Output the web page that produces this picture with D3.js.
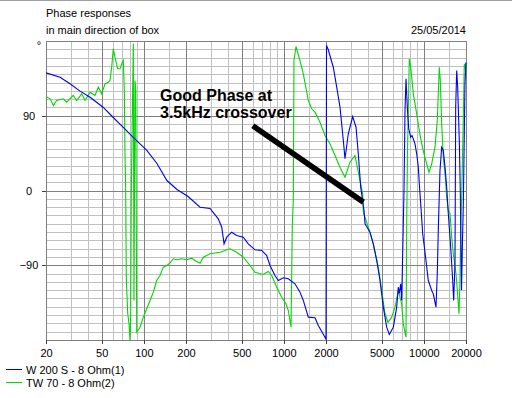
<!DOCTYPE html>
<html lang="en">

<head>
    <meta charset="UTF-8">
    <title>Phase responses</title>
    <script src="https://d3js.org/d3.v7.min.js"></script>
    <style>
        body {
            margin: 0;
            background: #fff;
        }

        svg {
            display: block;
        }

        text {
            font-family: "Liberation Sans", Arial, sans-serif;
            font-size: 11px;
            fill: #000;
        }

        .note {
            font-size: 16px;
            font-weight: bold;
        }
    </style>
</head>

<body>
    <div id="chart"></div>
    <script>
        // W 200 S - 8 Ohm(1)
        var freqW = [20, 25.2, 29.7, 35.0, 41.3, 51.1, 60.2, 71.0, 83.6, 105,
            124, 146, 172.5, 207, 252, 297, 340, 360, 374, 391,
            424, 460, 513, 557, 622, 695, 754, 796, 864, 913,
            991, 1076, 1201, 1304, 1377, 1495, 1669, 1762, 1967, 2000,
            2017, 2077, 2255, 2385, 2518, 2659, 2734, 2886, 3102, 3277,
            3402, 3540, 3737, 3800, 4124, 4354, 4604, 4862, 5134, 5428,
            5664, 6050, 6398, 6568, 6678, 6834, 6946, 7131, 7214, 7334,
            7456, 7617, 7794, 8054, 8229, 8407, 8644, 8890, 9127, 9278,
            9494, 9812, 10191, 10758, 11376, 11678, 12207, 12471, 12677, 13039,
            13408, 13767, 14159, 14559, 14949, 15549, 16069, 16334, 16688, 16881,
            17163, 17446, 17620, 17911, 18210, 18574, 18877, 19130, 19673, 20000];
        var phaseW = [141.7, 136.4, 128.5, 119.6, 112.3, 100.3, 88.2, 76.2, 64.2, 48.2,
            32.5, 12.0, 1.2, -7.2, -20.1, -21.7, -34.1, -44.2, -64.2, -56.2,
            -50.2, -54.2, -56.2, -64.2, -71.4, -72.2, -78.3, -90.3, -102.3, -108.4,
            -105.1, -106.3, -112.3, -122.4, -132.4, -152.5, -153.3, -162.5, -176.6, -179.4,
            174.6, 169.4, 148.4, 124.4, 100.3, 60.2, 38.2, 68.3, 89.1, 76.2,
            44.2, 4.0, -24.1, -40.1, -50.2, -64.2, -84.3, -108.4, -140.5, -164.6,
            -173.4, -164.6, -140.5, -116.4, -124, -112.3, -132.4, -40.1, 0, 96.3,
            134.5, 100.3, 74.6, 64.2, 66.2, 62.2, 56.2, 44.2, 28.1, 8.1,
            -16.0, -52.1, -74.3, -108.4, -120.4, -124.4, -140.5, -100.3, -48.2, 24.1,
            52.1, 48.2, 28.1, 4.0, -27.7, -68.3, -108.4, -132.4, -87.9, 100.3,
            144.5, 124.4, 100.3, 60.2, 0, -120, -60, -18, 128.5, 154.1];

        // TW 70 - 8 Ohm(2)
        var freqTW = [20, 21.4, 22.6, 23.8, 26.6, 28.1, 31.3, 33.1, 36.0, 38.0,
            41.3, 44.8, 47.3, 50.0, 52.8, 55.7, 57.3, 58.9, 60.5, 62.2,
            65.0, 67.6, 70.2, 71.3, 72.5, 73.3, 74.2, 74.9, 76.7, 78.3,
            79.6, 80.5, 81.3, 84.1, 85.0, 86.4, 87.6, 88.9, 93.9, 99.1,
            104.8, 110.7, 116.8, 123.5, 130.4, 137.7, 145.6, 153.7, 162.3, 171.7,
            186.4, 202, 220, 238, 252, 266, 297, 350, 413, 460,
            513, 573, 622, 713, 774, 819, 889, 965, 1036, 1076,
            1125, 1149, 1168, 1181, 1221, 1304, 1377, 1495, 1581, 1669,
            1812, 1967, 2136, 2319, 2518, 2734, 2968, 3222, 3346, 3499,
            3657, 3694, 4010, 4354, 4728, 5000, 5279, 5546, 5892, 6222,
            6568, 6946, 7131, 7456, 7541, 7642, 7871, 8054, 8229, 8407,
            8890, 9278, 9655, 10024, 10481, 10883, 11376, 12011, 12471, 12892,
            13106, 13408, 13767, 14159, 14559, 14949, 15372, 15810, 16232, 16969,
            17335, 17825, 18120, 18330, 18636, 19130, 19448, 19904, 20000];
        var phaseTW = [113.2, 110.4, 102.3, 108.4, 110.4, 106.3, 114.4, 108.4, 116.4, 108.4,
            118.3, 114.4, 124.4, 116.4, 128.5, 130.4, 132.4, 148.4, 170.6, 160.5,
            146.5, 146.5, 154.5, 156.5, 120.4, 44.5, -3.6, -104.7, -148.1, -160.1,
            -180, -152.9, -3.6, 177, -132.4, 132.4, 120.4, -170.6, -164.6, -152.5,
            -142.4, -132.4, -122.4, -108.4, -102.3, -92.3, -90.3, -87.5, -82.2, -83.4,
            -82.2, -83.4, -81.5, -85.5, -87.5, -80.3, -76.2, -74.3, -70.2, -74.3,
            -80.3, -90.3, -98.4, -101.1, -97.5, -102.3, -116.4, -128.5, -136.4, -144.5,
            -164.6, -42.1, -12.0, 156.5, 173.4, 156.5, 140.5, 108.4, 98.4, 94.3,
            82.2, 66.2, 56.2, 42.1, 28.1, 16.0, 34.1, 42.1, 28.1, 12.0,
            -4.0, -26.1, -44.2, -64.2, -92.3, -120.4, -148.4, -158.6, -152.5, -140.5,
            -120.4, -136.4, -160.5, -176.6, -40.1, 48.2, 158.6, 148.4, 132.4, 116.4,
            92.3, 72.2, 56.2, 44.2, 32.1, 22.0, 32.1, 52.1, 84.3, 148.4,
            132.4, 80.3, 40.1, 20.1, -8.1, -24.1, -27.7, -56.2, -76.2, -100.3,
            -120.4, -148.4, -108.4, -48.2, -8.1, 88.2, 152.5, 144.5, 154.1];

        // ticks and grid
        var xTickValues = [20, 50, 100, 200, 500, 1000, 2000, 5000, 10000, 20000];
        var xMinorValues = [30, 40, 60, 70, 80, 90, 150, 300, 400, 600, 700, 800, 900,
            1500, 3000, 4000, 6000, 7000, 8000, 9000, 15000];
        var yTickValues = [-90, 0, 90];
        var seriesNames = ["W 200 S - 8 Ohm(1)", "TW 70 - 8 Ohm(2)"];
        var seriesColors = ["#0000f0", "#00d800"];

        var width = 512, height = 398;
        var margin = { top: 41, right: 46, bottom: 58, left: 46 };
        var plotW = width - margin.left - margin.right,
            plotH = height - margin.top - margin.bottom;

        var svg = d3.select("#chart")
            .append("svg")
            .attr("width", width)
            .attr("height", height);

        // thin grey line along the top of the window
        svg.append("line")
            .attr("x1", 0).attr("x2", width)
            .attr("y1", 0.5).attr("y2", 0.5)
            .attr("stroke", "#a0a0a0");

        var g = svg.append("g")
            .attr("transform", "translate(" + margin.left + "," + margin.top + ")");

        var x = d3.scaleLog().domain([20, 20000]).range([0, plotW]);
        var y = d3.scaleLinear().domain([-180, 180]).range([plotH, 0]);

        function px(v) { return Math.round(v) + 0.5; }

        // minor grid
        var minorY = d3.range(-170, 180, 10).filter(function (d) { return yTickValues.indexOf(d) < 0; });
        g.selectAll(".hminor").data(minorY).enter().append("line")
            .attr("x1", 0).attr("x2", plotW)
            .attr("y1", function (d) { return px(y(d)); })
            .attr("y2", function (d) { return px(y(d)); })
            .attr("stroke", "#c0c0c0")
            .attr("shape-rendering", "crispEdges");
        g.selectAll(".vminor").data(xMinorValues).enter().append("line")
            .attr("y1", 0).attr("y2", plotH)
            .attr("x1", function (d) { return px(x(d)); })
            .attr("x2", function (d) { return px(x(d)); })
            .attr("stroke", "#c0c0c0")
            .attr("shape-rendering", "crispEdges");

        // major grid
        g.selectAll(".hmajor").data(yTickValues).enter().append("line")
            .attr("x1", 0).attr("x2", plotW)
            .attr("y1", function (d) { return px(y(d)); })
            .attr("y2", function (d) { return px(y(d)); })
            .attr("stroke", "#808080")
            .attr("shape-rendering", "crispEdges");
        g.selectAll(".vmajor").data(xTickValues.slice(1, -1)).enter().append("line")
            .attr("y1", 0).attr("y2", plotH)
            .attr("x1", function (d) { return px(x(d)); })
            .attr("x2", function (d) { return px(x(d)); })
            .attr("stroke", "#808080")
            .attr("shape-rendering", "crispEdges");

        // frame
        g.append("rect")
            .attr("x", 0.5).attr("y", 0.5)
            .attr("width", plotW).attr("height", plotH)
            .attr("fill", "none")
            .attr("stroke", "#808080")
            .attr("shape-rendering", "crispEdges");

        // axes
        var xAxis = g.append("g")
            .attr("transform", "translate(0," + plotH + ")")
            .call(d3.axisBottom(x).tickValues(xTickValues).tickFormat(d3.format("d")).tickSize(4).tickPadding(5));
        xAxis.select(".domain").remove();
        xAxis.selectAll("line").attr("stroke", "#404040").attr("shape-rendering", "crispEdges");
        xAxis.selectAll("text").style("font-size", "11px").style("font-family", "'Liberation Sans', Arial, sans-serif");

        var yAxis = g.append("g")
            .call(d3.axisLeft(y).tickValues(yTickValues).tickSize(4));
        yAxis.select(".domain").remove();
        yAxis.selectAll("line").attr("stroke", "#404040").attr("shape-rendering", "crispEdges");
        yAxis.selectAll("text")
            .attr("x", -17)
            .attr("text-anchor", "middle")
            .style("font-size", "11px").style("font-family", "'Liberation Sans', Arial, sans-serif");

        g.append("text")
            .attr("x", -7).attr("y", 8)
            .attr("text-anchor", "middle")
            .text("°");

        // curves
        g.append("clipPath").attr("id", "plotclip")
            .append("rect").attr("width", plotW + 1).attr("height", plotH + 1);

        var line = d3.line()
            .x(function (d) { return x(d[0]); })
            .y(function (d) { return y(d[1]); });

        var series = [d3.zip(freqW, phaseW), d3.zip(freqTW, phaseTW)];
        [1, 0].forEach(function (i) {
            g.append("path")
                .datum(series[i])
                .attr("clip-path", "url(#plotclip)")
                .attr("fill", "none")
                .attr("stroke", seriesColors[i])
                .attr("stroke-width", 1.1)
                .attr("d", line);
        });

        // annotation
        g.append("line")
            .attr("x1", x(600)).attr("y1", y(78))
            .attr("x2", x(3700)).attr("y2", y(-14))
            .attr("stroke", "#000")
            .attr("stroke-width", 5.5);
        svg.append("text").attr("class", "note").attr("x", 160).attr("y", 101).text("Good Phase at");
        svg.append("text").attr("class", "note").attr("x", 160).attr("y", 118).text("3.5kHz crossover");

        // titles
        svg.append("text").attr("x", 46).attr("y", 17).text("Phase responses");
        svg.append("text").attr("x", 46).attr("y", 34).text("in main direction of box");
        svg.append("text").attr("x", 466).attr("y", 34).attr("text-anchor", "end").text("25/05/2014");

        // legend
        var legend = svg.selectAll(".legend").data(seriesNames).enter().append("g")
            .attr("transform", function (d, i) { return "translate(6," + (369 + i * 13) + ")"; });
        legend.append("line")
            .attr("x1", 0).attr("x2", 16)
            .attr("y1", 0.5).attr("y2", 0.5)
            .attr("stroke", function (d, i) { return seriesColors[i]; })
            .attr("shape-rendering", "crispEdges");
        legend.append("text")
            .attr("x", 20).attr("y", 4.5)
            .text(function (d) { return d; });
    </script>
</body>

</html>
